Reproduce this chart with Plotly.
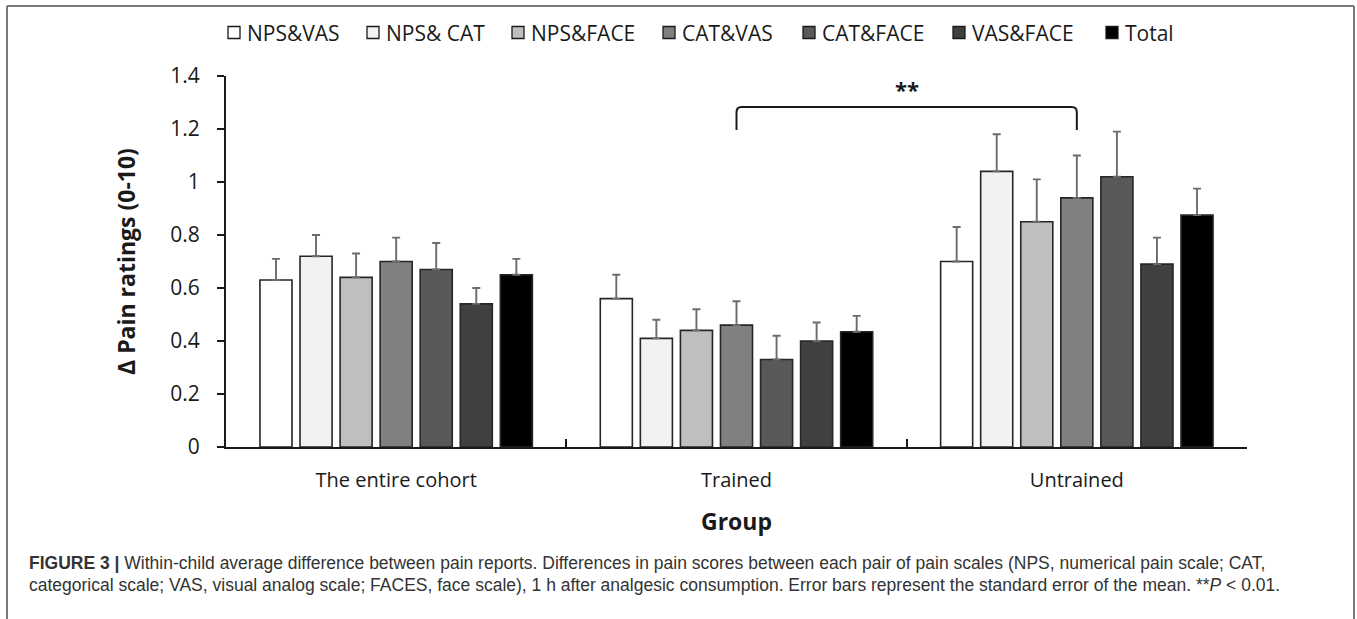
import plotly.graph_objects as go

# Groups on the x axis and the pairwise scale comparisons
groups = ["The entire cohort", "Trained", "Untrained"]
pairs = ["NPS&VAS", "NPS& CAT", "NPS&FACE", "CAT&VAS", "CAT&FACE", "VAS&FACE", "Total"]
fills = ["#ffffff", "#f2f2f2", "#bfbfbf", "#808080", "#595959", "#404040", "#000000"]

# Mean within-child difference per pair, one list per group order above
nps_vas = [0.63, 0.56, 0.70]
nps_cat = [0.72, 0.41, 1.04]
nps_face = [0.64, 0.44, 0.85]
cat_vas = [0.70, 0.46, 0.94]
cat_face = [0.67, 0.33, 1.02]
vas_face = [0.54, 0.40, 0.69]
total = [0.65, 0.435, 0.875]

# Standard errors of the mean
sem_nps_vas = [0.08, 0.09, 0.13]
sem_nps_cat = [0.08, 0.07, 0.14]
sem_nps_face = [0.09, 0.08, 0.16]
sem_cat_vas = [0.09, 0.09, 0.16]
sem_cat_face = [0.10, 0.09, 0.17]
sem_vas_face = [0.06, 0.07, 0.10]
sem_total = [0.06, 0.06, 0.10]

means = [nps_vas, nps_cat, nps_face, cat_vas, cat_face, vas_face, total]
sems = [sem_nps_vas, sem_nps_cat, sem_nps_face, sem_cat_vas, sem_cat_face, sem_vas_face, sem_total]

y_ticks = [0, 0.2, 0.4, 0.6, 0.8, 1.0, 1.2, 1.4]

# Significance bracket: Trained vs Untrained (CAT&VAS)
sig_from, sig_to = "Trained", "Untrained"
sig_low, sig_high, sig_label_y = 1.196, 1.283, 1.352
sig_text = "**"

W, H = 1357, 619
L, R, T, B = 226, 110, 76, 172
PW, PH = W - L - R, H - T - B


def px(x):
    return (x - L) / PW


def py(y):
    return (H - B - y) / PH


CHART_FONT = "Open Sans"
INK = "#1a1a1a"

fig = go.Figure()
for name, vals, errs, col in zip(pairs, means, sems, fills):
    fig.add_trace(go.Bar(
        name=name, x=groups, y=vals,
        marker=dict(color=col, line=dict(color="#262626", width=1.6)),
        error_y=dict(type="data", array=errs, arrayminus=[0] * len(errs),
                     symmetric=False, color="#6b6b6b", thickness=1.9, width=4),
        showlegend=False,
    ))

shapes = []
annotations = []

# Legend drawn as swatches with labels along the top
legend_x = [228, 367, 512, 663, 803, 953, 1106]
for x0, name, col in zip(legend_x, pairs, fills):
    shapes.append(dict(type="rect", xref="paper", yref="paper",
                       x0=px(x0), x1=px(x0 + 12), y0=py(38.5), y1=py(26.5),
                       fillcolor=col, line=dict(color=INK, width=1.3)))
    annotations.append(dict(xref="paper", yref="paper", x=px(x0 + 17), y=py(32.5),
                            text=name, showarrow=False, xanchor="left", yanchor="middle",
                            font=dict(family=CHART_FONT, size=21, color=INK)))

# Significance bracket with rounded ends
i0, i1 = groups.index(sig_from), groups.index(sig_to)
rx, ry = 0.015, 0.02
path = (f"M {i0},{sig_low} L {i0},{sig_high - ry} Q {i0},{sig_high} {i0 + rx},{sig_high} "
        f"L {i1 - rx},{sig_high} Q {i1},{sig_high} {i1},{sig_high - ry} L {i1},{sig_low}")
shapes.append(dict(type="path", xref="x", yref="y", path=path,
                   line=dict(color=INK, width=2)))
annotations.append(dict(xref="x", yref="y", x=(i0 + i1) / 2, y=sig_label_y, text=f"<b>{sig_text}</b>",
                        showarrow=False, font=dict(family=CHART_FONT, size=22, color=INK)))

# Figure frame (top, left, right)
frame = dict(color="#7a7a7a", width=2)
shapes.append(dict(type="line", xref="paper", yref="paper", x0=px(7), x1=px(1354), y0=py(6), y1=py(6), line=frame))
shapes.append(dict(type="line", xref="paper", yref="paper", x0=px(7), x1=px(7), y0=py(6), y1=py(619), line=frame))
shapes.append(dict(type="line", xref="paper", yref="paper", x0=px(1354), x1=px(1354), y0=py(6), y1=py(619), line=frame))

# Caption
cap1 = ("<b>FIGURE 3 |</b> Within-child average difference between pain reports. Differences in pain scores "
        "between each pair of pain scales (NPS, numerical pain scale; CAT,")
cap2 = ("categorical scale; VAS, visual analog scale; FACES, face scale), 1 h after analgesic consumption. "
        "Error bars represent the standard error of the mean. **<i>P</i> &lt; 0.01.")
for text, yy in [(cap1, 563), (cap2, 585)]:
    annotations.append(dict(xref="paper", yref="paper", x=px(27), y=py(yy), text=text,
                            showarrow=False, xanchor="left", yanchor="middle",
                            font=dict(family="Liberation Sans", size=17.5, color="#333333")))

fig.update_layout(
    width=W, height=H,
    margin=dict(l=L, r=R, t=T, b=B, pad=0),
    paper_bgcolor="white", plot_bgcolor="white",
    barmode="group", bargap=0.176, bargroupgap=0.2,
    shapes=shapes, annotations=annotations,
    font=dict(family=CHART_FONT, color=INK),
)
fig.update_xaxes(
    type="category", showline=True, linecolor=INK, linewidth=2,
    ticks="inside", tickson="boundaries", ticklen=8, tickwidth=2, tickcolor=INK,
    showgrid=False, ticklabelstandoff=14,
    tickfont=dict(family=CHART_FONT, size=20, color=INK),
    title=dict(text="<b>Group</b>", standoff=22, font=dict(family=CHART_FONT, size=23, color=INK)),
)
fig.update_yaxes(
    range=[0, 1.4], tickvals=y_ticks, ticktext=[f"{v:g}" for v in y_ticks],
    showline=True, linecolor=INK, linewidth=2,
    ticks="outside", ticklen=7, tickwidth=2, tickcolor=INK,
    showgrid=False, zeroline=False, ticklabelstandoff=13,
    tickfont=dict(family=CHART_FONT, size=21, color=INK),
    title=dict(text="<b>Δ Pain ratings (0-10)</b>", standoff=28,
               font=dict(family=CHART_FONT, size=23, color=INK)),
)

fig.write_html("out.html")
